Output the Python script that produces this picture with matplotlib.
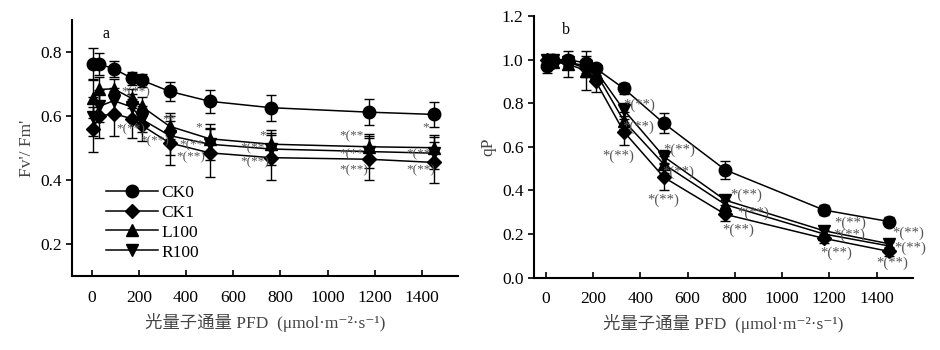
import numpy as np
import matplotlib.pyplot as plt

plt.rcParams['font.family'] = ['Liberation Serif', 'DejaVu Serif', 'Noto Sans CJK SC']
plt.rcParams['font.size'] = 12.5

# 光量子通量 PFD
pfd = [5, 32, 93, 170, 212, 330, 500, 760, 1177, 1453]
series = ['CK0', 'CK1', 'L100', 'R100']
markers = ['o', 'D', '^', 'v']
msizes = [9, 7.5, 8.5, 8.5]

# a: Fv'/Fm'
fv_ck0 = [0.762, 0.762, 0.748, 0.718, 0.712, 0.677, 0.646, 0.626, 0.612, 0.605]
fv_ck1 = [0.559, 0.600, 0.607, 0.592, 0.571, 0.516, 0.485, 0.470, 0.465, 0.455]
fv_l100 = [0.655, 0.683, 0.685, 0.655, 0.630, 0.568, 0.529, 0.512, 0.504, 0.501]
fv_r100 = [0.598, 0.630, 0.648, 0.628, 0.590, 0.539, 0.512, 0.497, 0.489, 0.484]
fv_err_ck0 = [0.05, 0.035, 0.025, 0.02, 0.02, 0.03, 0.035, 0.04, 0.04, 0.04]
fv_err_ck1 = [0.07, 0.07, 0.07, 0.06, 0.05, 0.07, 0.075, 0.07, 0.065, 0.065]
fv_err_l100 = [0.06, 0.04, 0.03, 0.03, 0.03, 0.04, 0.045, 0.045, 0.04, 0.04]
fv_err_r100 = [0.06, 0.05, 0.04, 0.04, 0.04, 0.06, 0.05, 0.05, 0.05, 0.05]

# b: qP
qp_ck0 = [0.97, 1.0, 1.0, 0.985, 0.96, 0.868, 0.708, 0.494, 0.31, 0.257]
qp_ck1 = [1.0, 0.99, 0.99, 0.96, 0.90, 0.67, 0.46, 0.29, 0.18, 0.12]
qp_l100 = [0.99, 0.99, 0.98, 0.95, 0.94, 0.72, 0.52, 0.335, 0.20, 0.145]
qp_r100 = [1.0, 1.0, 0.99, 0.97, 0.95, 0.77, 0.555, 0.355, 0.215, 0.155]
qp_err_ck0 = [0.03, 0.02, 0.02, 0.03, 0.02, 0.025, 0.045, 0.04, 0.025, 0.02]
qp_err_ck1 = [0.02, 0.02, 0.02, 0.04, 0.05, 0.06, 0.06, 0.03, 0.02, 0.02]
qp_err_l100 = [0.03, 0.02, 0.06, 0.09, 0.03, 0.04, 0.04, 0.02, 0.02, 0.02]
qp_err_r100 = [0.02, 0.02, 0.02, 0.03, 0.02, 0.03, 0.03, 0.02, 0.02, 0.02]

# significance marks (x, y, text)
marks_a = [(125, 0.675, '*(**)'), (105, 0.56, '*(**)'), (205, 0.52, '*(**)'),
           (300, 0.59, '**'), (440, 0.565, '*'), (370, 0.51, '*(**'),
           (360, 0.47, '*(**)'), (710, 0.54, '*'), (630, 0.50, '*(**'),
           (630, 0.455, '*(**)'), (1050, 0.537, '*(**'), (1050, 0.482, '*(**'),
           (1050, 0.432, '*(**)'), (1400, 0.565, '*'), (1335, 0.48, '*(**'),
           (1335, 0.43, '*(**)')]
marks_b = [(330, 0.79, '*(**)'), (325, 0.69, '*(**)'), (240, 0.555, '*(**)'),
           (497, 0.585, '*(**)'), (494, 0.485, '*(**)'), (430, 0.356, '*(**)'),
           (780, 0.378, '*(**)'), (810, 0.295, '*(**)'), (746, 0.219, '*(**)'),
           (1223, 0.25, '*(**)'), (1215, 0.195, '*(**)'), (1160, 0.112, '*(**)'),
           (1467, 0.204, '*(**)'), (1475, 0.135, '*(**)'), (1400, 0.066, '*(**)')]

xlabel = '光量子通量 PFD  (μmol·m⁻²·s⁻¹)'

fig = plt.figure(figsize=(9.4, 3.5), dpi=100)
ax1 = fig.add_axes([0.077, 0.211, 0.410, 0.732])
ax2 = fig.add_axes([0.568, 0.207, 0.403, 0.747])


def draw(ax, ys, errs, marks, mfs):
    handles = []
    for name, m, ms, y, e in zip(series, markers, msizes, ys, errs):
        c = ax.errorbar(pfd, y, yerr=e, fmt='-', marker=m, ms=ms, color='black',
                        lw=1.1, elinewidth=1, capsize=3.5, capthick=1, label=name)
        handles.append(c[0])
    for x, y, t in marks:
        ax.text(x, y, t, fontsize=mfs, color='#555555', va='center', ha='left')
    for s in ['top', 'right']:
        ax.spines[s].set_visible(False)
    for s in ['left', 'bottom']:
        ax.spines[s].set_linewidth(1.5)
    ax.tick_params(axis='x', direction='in', length=4, width=1.2, pad=10)
    ax.tick_params(axis='y', direction='out', length=4, width=1.2)
    ax.set_xticks(range(0, 1401, 200))
    ax.set_xlabel(xlabel, color='#444444', fontsize=12.5, labelpad=5)
    return handles


h = draw(ax1, [fv_ck0, fv_ck1, fv_l100, fv_r100],
         [fv_err_ck0, fv_err_ck1, fv_err_l100, fv_err_r100], marks_a, 9.5)
ax1.set_xlim(-82, 1552)
ax1.set_ylim(0.1, 0.9)
ax1.set_yticks([0.2, 0.4, 0.6, 0.8])
ax1.set_ylabel("Fv'/ Fm'", color='#444444', fontsize=12.5)
ax1.text(59, 0.856, 'a', fontsize=11.5, ha='center', va='center')
ax1.legend(h, series, loc='upper left', bbox_to_anchor=(0.07, 0.385), frameon=False,
           handlelength=3.0, handletextpad=0.15, labelspacing=0.22,
           borderaxespad=0, fontsize=12.5)

draw(ax2, [qp_ck0, qp_ck1, qp_l100, qp_r100],
     [qp_err_ck0, qp_err_ck1, qp_err_l100, qp_err_r100], marks_b, 10.5)
ax2.set_xlim(-50, 1553)
ax2.set_ylim(0, 1.2)
ax2.set_yticks(np.arange(0, 1.21, 0.2))
ax2.yaxis.set_major_formatter(plt.FormatStrFormatter('%.1f'))
ax2.set_ylabel('qP', color='#444444', fontsize=12.5)
ax2.text(84, 1.136, 'b', fontsize=11.5, ha='center', va='center')

fig.savefig('out.png', dpi=100)
